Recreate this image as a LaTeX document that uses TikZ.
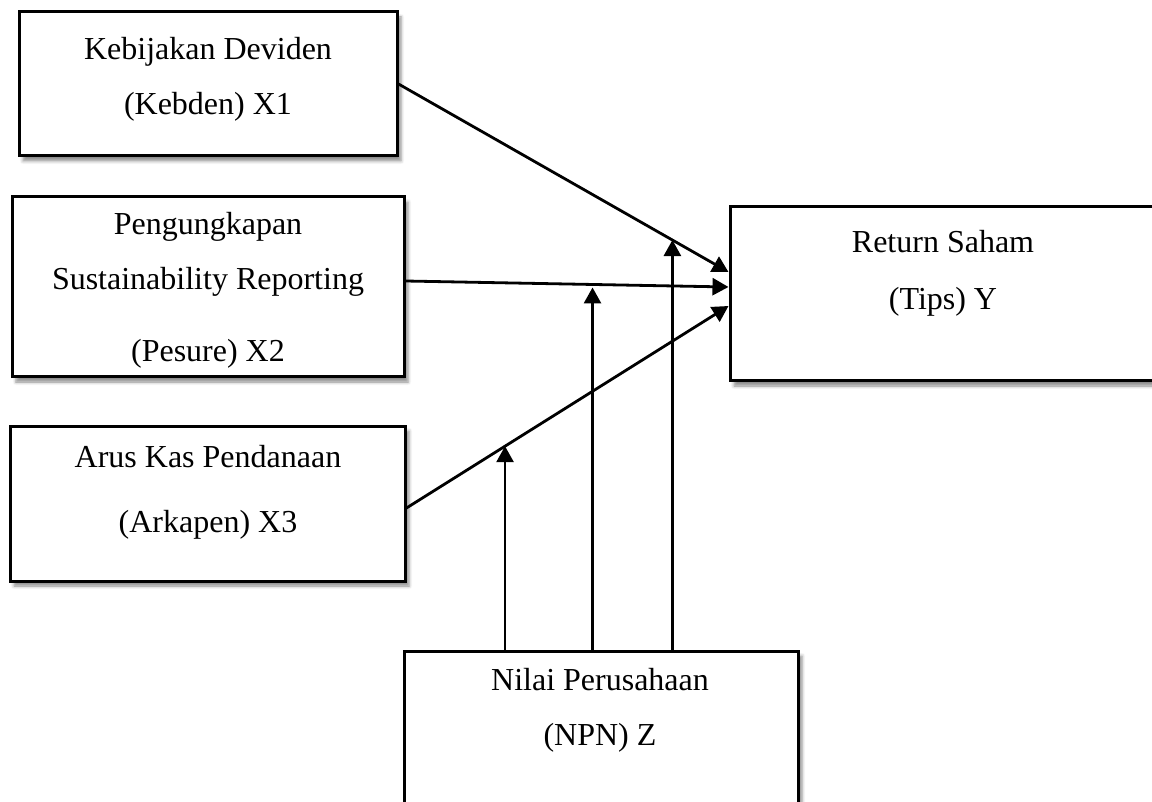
\documentclass[tikz,border=0pt]{standalone}
\usepackage{fontspec}
\setmainfont{Liberation Serif}
\usetikzlibrary{arrows.meta,shadows.blur}

\begin{document}
\begin{tikzpicture}[x=0.5pt,y=-0.5pt,>={Triangle[length=8pt,width=8.5pt]},
    line join=miter,
    varbox/.style={draw,line width=1.5pt,fill=white,inner sep=0pt,
      blur shadow={shadow xshift=2pt,shadow yshift=-2.5pt,
        shadow blur radius=1.6pt,shadow opacity=45}},
    varlbl/.style={align=center,inner sep=0pt,
      font=\fontsize{16}{27.5}\selectfont},
    link/.style={->,line width=1.4pt}]
    \clip (0,0) rectangle (1152,802);

    % Independent variables on the left.
    \node[varbox,minimum width=189pt,minimum height=72pt] (keb) at (208,84) {};
    \node[varlbl] (kebtxt) at (208,79.5)
      {Kebijakan Deviden\\(Kebden) X1};
    \node[varbox,minimum width=196pt,minimum height=90pt] (pes) at (208,287) {};
    \node[varlbl] (pestxt) at (208,290.5)
      {Pengungkapan\\Sustainability Reporting\\[8.5pt](Pesure) X2};
    \node[varbox,minimum width=197.5pt,minimum height=77.5pt] (ark)
      at (207.5,503.5) {};
    \node[varlbl] (arktxt) at (208,492.5)
      {Arus Kas Pendanaan\\[5pt](Arkapen) X3};

    % Dependent variable and moderator.
    \node[varbox,minimum width=217.5pt,minimum height=87pt] (ret)
      at (947.5,294) {};
    \node[varlbl] (rettxt) at (943,273.5) {Return Saham\\[1pt](Tips) Y};
    \node[varbox,minimum width=197pt,minimum height=84.5pt] (npn)
      at (601,735.5) {};
    \node[varlbl] (npntxt) at (600,710) {Nilai Perusahaan\\(NPN) Z};

    % Direct effects on the return.
    \draw[link] (keb.east) -- coordinate[pos=.83] (m1) ([yshift=11pt]ret.west);
    \draw[link] ([yshift=3pt]pes.east) -- coordinate[pos=.579] (m2)
      ([yshift=3.5pt]ret.west);
    \draw[link] ([yshift=-2.25pt]ark.east) -- coordinate[pos=.306] (m3)
      ([yshift=-6pt]ret.west);

    % Moderating paths from the firm value.
    \draw[link] (npn.north -| m3) -- (m3);
    \draw[link] (npn.north -| m2) -- ([yshift=-1.5pt]m2);
    \draw[link] (npn.north -| m1) -- (m1);
\end{tikzpicture}
\end{document}
